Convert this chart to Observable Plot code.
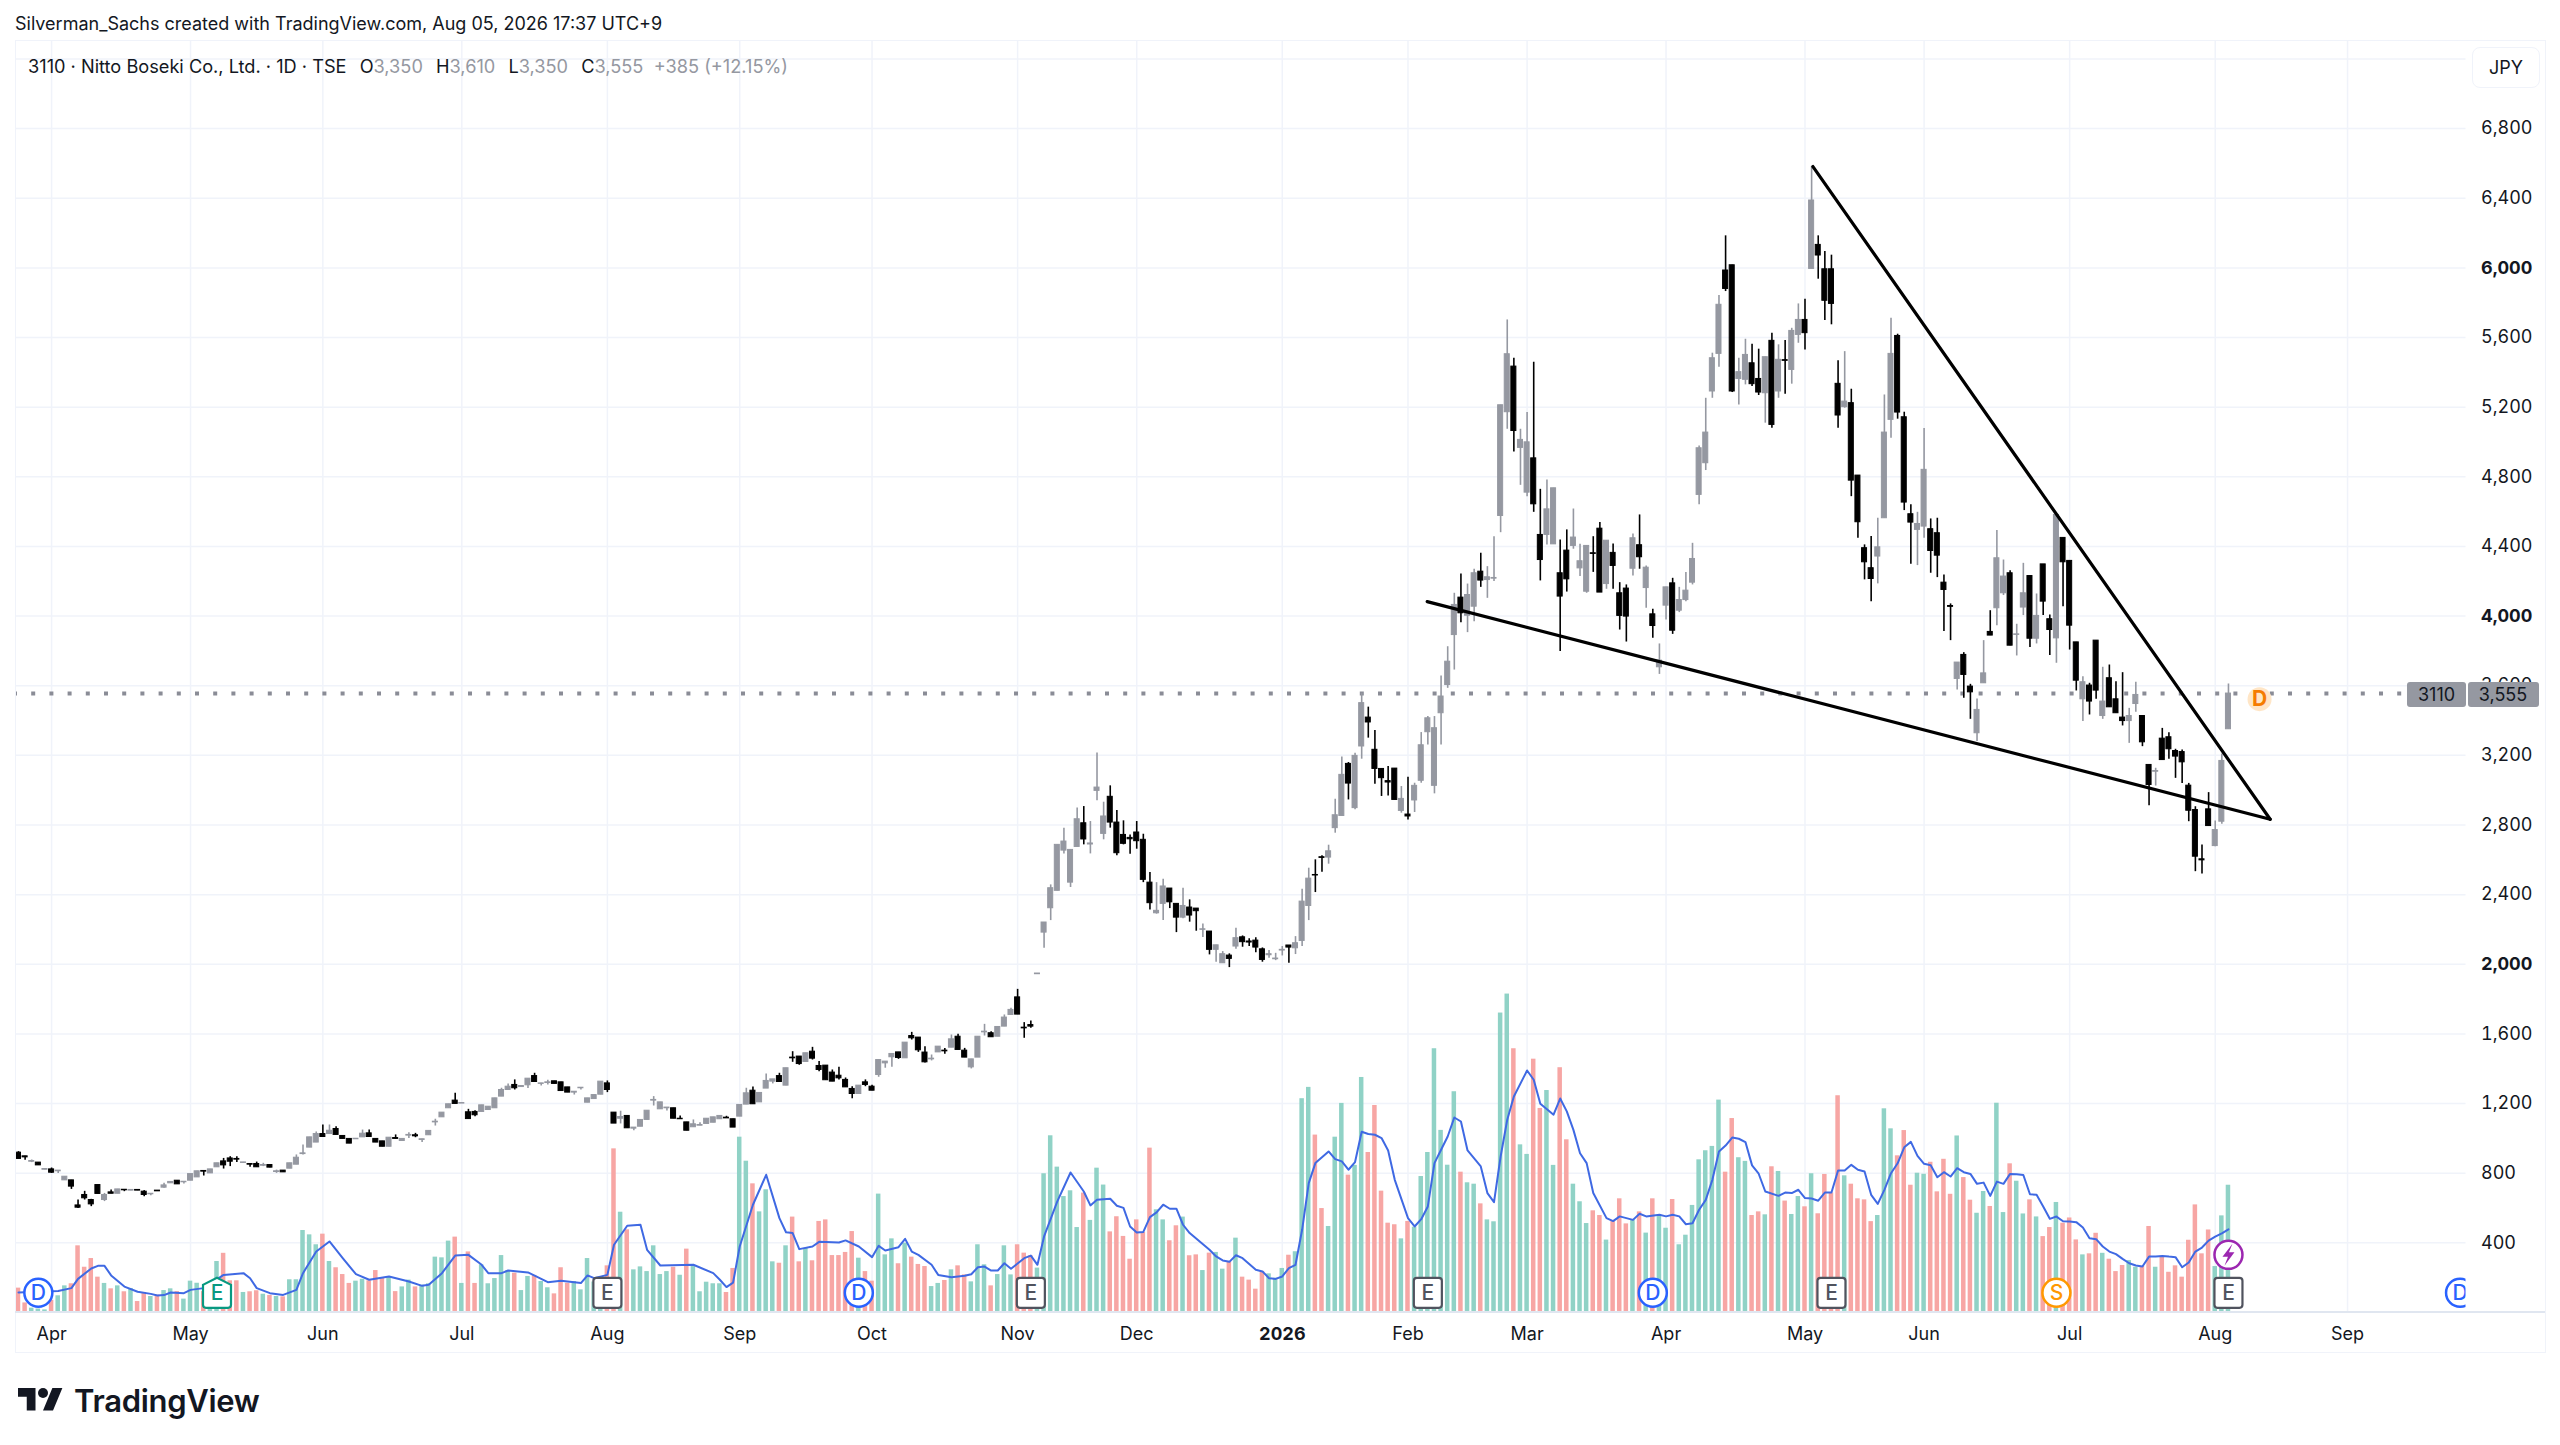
<!DOCTYPE html>
<html>
<head>
<meta charset="utf-8">
<script src="https://cdn.jsdelivr.net/npm/d3@7"></script>
<script src="https://cdn.jsdelivr.net/npm/@observablehq/plot@0.6"></script>
<style>
html,body{margin:0;padding:0;background:#fff;width:2560px;height:1445px;overflow:hidden;font-family:Inter,"Liberation Sans",sans-serif;color:#131722}
#head{height:40px;line-height:47px;padding-left:15px;font-size:18px;white-space:nowrap;box-sizing:border-box}
#chart{position:relative;width:2560px;height:1312px}
#chart svg{display:block}
.abs{position:absolute;white-space:nowrap}
#legend{left:28px;top:14px;font-size:18.2px;line-height:24px}
#legend span{color:#9598a1}
#legend b{font-weight:400;margin-left:8px}
.badge{background:#9598a1;color:#131722;font-size:18px;top:642px;height:25px;line-height:25px;text-align:center;border-radius:3px}
#frame{position:absolute;left:15px;top:0;width:2529px;height:1311px;border:1.5px solid #f0f3fa;pointer-events:none}
#base{position:absolute;left:15px;top:1271px;width:2530px;height:2px;background:#e0e6f0}
#jpy{left:2472px;top:7px;width:66px;height:39px;line-height:39px;border:1px solid #f0f3fa;border-radius:8px;text-align:center;font-size:18px;background:#fff}
#foot{position:absolute;left:18px;top:1382px;display:flex;align-items:center}
#foot span{font-size:31px;font-weight:600;margin-left:11px;letter-spacing:-.3px;color:#131722}
</style>
</head>
<body>
<div id="head">Silverman_Sachs created with TradingView.com, Aug 05, 2026 17:37 UTC+9</div>
<div id="chart"></div>
<div id="foot"><svg width="45" height="35" viewBox="0 0 36 28"><path fill="#131722" d="M14 22H7V11H0V4h14v18zM28 22h-8l7.5-18h8L28 22z"/><circle fill="#131722" cx="20" cy="8" r="4"/></svg><span>TradingView</span></div>
<script>
const open=[
918,897,866,861,820,822,811,759,759,615,
675,646,732,646,690,682,705,700,704,694,
679,700,717,742,757,748,757,776,813,799,
834,868,885,882,859,853,853,843,847,807,
815,826,849,910,947,976,1025,1025,1054,1014,
997,995,1006,1029,997,983,952,1002,985,1016,
1018,991,1018,1092,1121,1173,1217,1200,1150,1152,
1152,1163,1173,1240,1278,1307,1295,1305,1358,1313,
1318,1328,1322,1293,1263,1288,1205,1226,1251,1316,
1148,1113,1129,1056,1067,1106,1217,1167,1173,1173,
1113,1092,1064,1073,1083,1090,1110,1119,1110,1125,
1194,1274,1207,1286,1326,1358,1303,1464,1470,1439,
1498,1416,1418,1378,1360,1336,1284,1255,1322,1297,
1364,1431,1466,1494,1460,1588,1579,1493,1454,1494,
1504,1521,1584,1504,1408,1464,1609,1604,1584,1642,
1709,1810,1636,1651,1943,2182,2322,2422,2653,2469,
2674,2810,2688,2996,2749,2962,2814,2743,2726,2757,
2715,2469,2293,2347,2435,2347,2268,2326,2320,2198,
2188,2083,2006,2050,2102,2155,2131,2136,2086,2052,
2029,2079,2108,2092,2134,2335,2513,2615,2613,2782,
2852,3151,2897,3251,3417,3232,3122,3052,3124,2881,
2860,2941,3054,3333,3025,3442,3604,3891,4106,4002,
4054,4255,4207,4215,4575,5171,5433,4966,4709,4906,
4466,4466,4412,4246,4376,4403,4274,4140,4361,4502,
4184,4363,4131,4158,4272,4407,4161,4010,3706,4060,
4188,4031,4092,4192,4696,4878,5290,5506,5985,6015,
5362,5357,5452,5362,5280,5581,5290,5470,5414,5615,
5701,5994,6132,5992,5992,5334,5200,5223,4807,4390,
4275,4342,4562,5127,5609,5142,4585,4495,4514,4499,
4476,4192,4058,3639,3777,3595,3327,3614,3909,4045,
4131,4246,3892,4049,4230,3870,4297,3982,3872,4449,
4317,3849,3522,3601,3859,3426,3643,3522,3417,3397,
3495,3426,3145,3106,3296,3304,3225,3219,3026,2886,
2603,2890,2679,2819,3350];
const high=[
924,897,876,861,824,830,815,780,759,646,
696,650,732,684,704,707,705,704,704,700,
682,700,742,750,757,751,795,811,813,822,
857,885,895,895,862,853,864,857,847,818,
815,857,905,962,1006,1037,1077,1077,1067,1014,
997,998,1048,1048,997,983,1004,1020,997,1033,
1029,995,1043,1110,1148,1196,1259,1203,1167,1159,
1190,1182,1230,1288,1313,1336,1301,1343,1374,1316,
1334,1328,1322,1293,1268,1291,1230,1249,1326,1330,
1148,1156,1129,1062,1106,1159,1240,1207,1177,1173,
1129,1092,1106,1090,1113,1121,1129,1127,1110,1192,
1288,1295,1261,1370,1339,1374,1403,1498,1470,1489,
1523,1441,1418,1393,1408,1347,1297,1303,1336,1305,
1450,1441,1485,1494,1550,1609,1579,1527,1479,1527,
1516,1594,1598,1517,1454,1584,1655,1613,1640,1709,
1747,1856,1665,1674,1947,2240,2456,2686,2782,2657,
2897,2906,2820,3213,2931,3025,2883,2824,2743,2820,
2747,2527,2469,2489,2435,2347,2437,2370,2320,2232,
2188,2109,2073,2060,2207,2163,2146,2153,2094,2079,
2063,2102,2108,2159,2431,2552,2600,2623,2684,2948,
3190,3159,3212,3557,3477,3343,3122,3136,3124,3021,
3075,3040,3331,3423,3423,3656,3824,4131,4242,4184,
4269,4361,4284,4456,5211,5701,5481,5073,5169,5458,
4728,4782,4734,4437,4495,4615,4412,4403,4456,4537,
4433,4414,4192,4179,4472,4581,4288,4039,3840,4165,
4217,4165,4250,4418,4977,5251,5510,5841,6184,6015,
5481,5590,5562,5533,5487,5625,5558,5583,5653,5793,
5820,6582,6184,6094,6073,5466,5519,5303,4807,4409,
4457,4562,5270,5711,5619,5171,4639,4596,5077,4558,
4562,4236,4070,3733,3790,3608,3524,3859,4031,4491,
4322,4261,3953,4303,4230,4127,4297,4006,4581,4449,
4317,3849,3652,3614,3859,3706,3719,3623,3675,3470,
3620,3426,3145,3126,3355,3330,3235,3231,3039,2905,
2685,2986,2823,3208,3610];
const low=[
882,874,861,845,820,799,799,759,707,598,
646,608,681,637,682,682,694,700,700,665,
671,696,713,742,736,738,757,776,784,799,
834,824,838,861,859,834,834,838,832,799,
805,826,849,905,947,976,1008,1025,1020,997,
970,995,1006,1008,976,952,952,997,985,1000,
1004,977,1018,1071,1121,1173,1198,1200,1111,1125,
1152,1163,1173,1240,1278,1278,1295,1286,1324,1301,
1307,1313,1272,1263,1249,1278,1205,1226,1251,1263,
1085,1083,1058,1044,1067,1106,1186,1167,1157,1113,
1110,1044,1064,1073,1083,1090,1110,1115,1062,1125,
1194,1196,1207,1286,1313,1324,1303,1437,1420,1439,
1450,1383,1334,1326,1336,1293,1228,1255,1297,1274,
1351,1403,1408,1454,1460,1565,1494,1433,1445,1494,
1483,1521,1508,1464,1399,1464,1588,1581,1584,1642,
1709,1711,1575,1632,1943,2092,2251,2422,2634,2441,
2674,2686,2634,2939,2715,2782,2623,2686,2632,2661,
2469,2312,2288,2251,2320,2182,2261,2242,2190,2154,
2054,2012,2006,1981,2086,2098,2102,2067,2012,2035,
2021,2048,2006,2056,2102,2251,2412,2529,2575,2753,
2852,2944,2887,3178,3299,3034,2964,2967,2944,2868,
2829,2872,3040,3260,2979,3260,3585,3690,3962,3905,
3968,4165,4102,4198,4479,5073,4943,4751,4686,4596,
4202,4408,4412,3796,4138,4384,4227,4131,4251,4135,
4154,4154,3920,3851,4230,4269,4045,3872,3665,3978,
3895,4020,4083,4179,4639,4836,5251,5429,5864,5284,
5213,5328,5318,5267,5108,5079,5251,5274,5332,5567,
5529,5994,5935,5698,5673,5079,5194,4686,4447,4208,
4083,4185,4562,5022,5131,4606,4298,4290,4447,4246,
4221,3911,3859,3576,3528,3407,3279,3614,3888,3945,
4118,3830,3771,4003,3819,3840,4003,3773,3729,4054,
3805,3570,3394,3432,3522,3407,3476,3442,3369,3269,
3447,3250,2911,3024,3173,3177,3068,3039,2819,2532,
2519,2794,2675,2804,3350];
const close=[
882,891,870,845,824,803,815,780,723,602,
656,621,681,675,682,707,702,704,700,675,
682,696,730,750,736,751,795,811,809,822,
857,845,866,878,862,849,834,847,832,811,
805,857,889,914,1006,1025,1008,1044,1020,997,
970,998,1027,1008,976,952,1004,997,997,1020,
1012,995,1043,1096,1148,1196,1198,1203,1111,1133,
1190,1182,1230,1278,1297,1288,1301,1343,1324,1316,
1322,1313,1272,1263,1268,1291,1230,1249,1326,1278,
1085,1123,1058,1062,1106,1159,1221,1207,1177,1113,
1110,1044,1081,1077,1113,1121,1129,1115,1062,1192,
1259,1196,1261,1330,1339,1324,1403,1460,1427,1489,
1458,1393,1334,1326,1345,1293,1255,1303,1307,1274,
1450,1441,1485,1462,1550,1575,1506,1437,1458,1527,
1500,1569,1508,1464,1454,1584,1613,1581,1640,1694,
1738,1711,1632,1642,1947,2240,2437,2686,2705,2657,
2833,2717,2694,3015,2849,2814,2638,2692,2718,2707,
2485,2351,2307,2447,2356,2268,2335,2280,2305,2201,
2083,2109,2058,2031,2150,2127,2125,2096,2025,2058,
2033,2083,2096,2121,2360,2492,2510,2611,2649,2856,
3088,3038,3197,3500,3389,3122,3069,3044,2944,2950,
2849,3025,3258,3413,3356,3538,3738,4064,4016,4121,
4246,4204,4223,4219,5211,5504,5063,5012,4998,4642,
4322,4613,4734,4112,4211,4451,4315,4403,4357,4135,
4433,4288,4001,3997,4447,4338,4278,3943,3744,4165,
3916,4092,4146,4328,4964,5054,5481,5788,5879,5290,
5401,5500,5332,5284,5487,5098,5472,5466,5638,5701,
5625,6387,6071,5811,5793,5152,5232,4778,4539,4309,
4213,4395,5054,5506,5169,4652,4537,4529,4840,4374,
4347,4150,4053,3733,3662,3562,3461,3671,3888,4332,
4227,3830,3895,4131,3870,4001,4083,3920,4581,4309,
3945,3629,3620,3509,3572,3509,3476,3442,3397,3426,
3547,3275,3030,3110,3173,3235,3193,3160,2882,2618,
2597,2794,2771,3168,3555];
const volume=[
140,55,25,20,15,70,96,153,165,383,
260,310,203,167,136,153,119,138,63,115,
92,100,126,136,120,77,180,168,120,145,
293,340,182,182,115,119,125,105,98,92,
90,188,188,471,446,389,450,293,257,218,
167,180,191,182,241,197,201,120,147,186,
147,157,165,318,314,410,433,167,348,167,
274,165,195,327,241,226,126,207,213,178,
142,107,257,168,178,130,310,175,150,268,
940,576,475,245,262,235,383,218,235,260,
214,364,264,119,174,165,165,115,253,1007,
869,739,578,705,291,283,383,548,291,368,
297,523,532,327,327,345,465,312,235,180,
680,331,423,280,398,318,276,264,149,167,
184,245,268,216,176,389,274,153,218,383,
216,389,341,326,255,797,1015,835,666,699,
488,686,529,829,732,463,550,437,306,532,
460,944,590,532,412,498,548,326,331,241,
341,345,249,293,427,203,186,134,236,222,
197,253,329,349,1228,1293,1019,597,494,1007,
1201,789,845,1350,919,1189,697,513,504,423,
523,490,781,919,1515,1046,846,1268,806,745,
737,624,532,521,1720,1829,1515,963,908,1455,
1172,1275,845,1406,992,737,636,511,584,557,
416,523,653,509,532,578,456,653,557,484,
649,389,444,615,877,929,954,1220,806,1114,
889,868,557,578,561,837,810,640,563,666,
607,797,567,793,686,1245,785,737,653,647,
522,557,1170,1055,900,1045,731,800,794,863,
693,880,679,1014,775,645,570,695,609,1202,
574,854,754,566,647,549,436,488,632,513,
543,417,331,337,455,340,306,235,270,298,
260,264,494,260,321,231,268,203,415,618,
337,474,264,555,731];
const volumeDirection=[
"rrgggrggrr","rrrgrgrgrr","grggrgggrg","grrrgrrgrg","rgggggrgrr","rggrrrgrgg","rgggggrgrr","gggggrggrg","grrrgggggr",
"rgrggggggr","grgggggrrg","grgggrgrrg","rrrrrrrgrr","gggrgrrrgg","rgrrgggrgg","grrrgggggg","grgggrrrrr","rrggrrgrrg",
"rggrgrrrrg","ggrgggrrgg","grggrrrrrg","rgggggggrg","grggggrggr","rggrrgggrr","grrrgrgrgg","rgggggggrr","ggrrgrgrgg",
"rgrrrrgrrr","rgggrrrggr","rrrgrrggrg","grggrgrrgr","rrgrrgrrrg","grrgrrrrrr","rrggg"].join("");
const maIndex=[
0,6,8,9,11,12,13,14,16,18,
20,21,22,23,25,26,28,31,34,35,
36,38,40,42,43,45,47,49,51,53,
56,59,61,62,64,66,68,70,71,73,
74,77,80,82,85,86,87,89,90,92,
94,95,97,102,105,106,107,108,109,111,
113,115,116,117,118,120,121,124,125,127,
129,130,131,133,134,135,136,138,139,141,
143,144,145,146,147,148,149,150,152,153,
154,155,157,159,161,162,163,165,166,167,
168,169,170,171,172,173,174,175,176,177,
180,181,182,183,184,185,187,188,189,190,
191,192,193,194,195,196,198,199,200,201,
202,203,204,205,206,207,208,210,211,212,
213,214,215,216,217,218,219,221,222,223,
224,225,226,228,229,230,232,233,234,235,
236,237,238,240,241,242,244,245,246,248,
249,250,251,252,253,254,255,256,257,258,
259,260,261,262,263,264,266,267,268,269,
270,271,272,273,274,275,276,277,278,279,
280,281,282,283,284,285,286,287,288,289,
290,291,292,293,294,295,296,297,298,299,
300,301,302,303,304,305,306,307,308,309,
310,311,312,313,314,315,316,317,318,319,
320,321,322,323,324,325,326,327,328,329,
330,331,332,333,334];
const maValue=[
115,123,140,193,253,268,268,213,149,119,
107,98,100,115,111,130,140,216,226,197,
140,111,101,130,226,350,408,312,220,188,
207,178,153,159,226,327,331,274,226,226,
241,230,174,182,169,213,197,216,389,498,
504,360,270,274,226,188,146,172,379,619,
791,542,461,456,364,379,406,402,414,379,
318,383,356,375,423,350,331,274,216,203,
211,220,260,264,241,241,283,251,312,327,
274,437,638,804,695,615,647,653,613,601,
494,460,463,548,575,619,596,596,504,456,
360,322,299,291,329,312,245,236,197,193,
207,255,274,475,743,858,925,881,868,820,
864,1038,1025,1021,1002,931,762,542,494,536,
609,858,935,1011,1120,1097,931,839,686,634,
896,1107,1241,1390,1337,1199,1136,1229,1155,1049,
915,858,686,542,525,552,532,567,552,561,
552,561,552,507,513,590,647,762,925,959,
1005,998,979,845,797,695,670,689,686,705,
657,655,642,689,689,816,816,848,820,810,
676,624,704,800,857,949,980,900,854,846,
777,806,781,829,806,796,739,746,670,752,
739,796,794,790,679,676,609,538,551,524,
522,519,488,427,421,379,350,335,308,283,
270,264,321,321,325,321,318,260,287,350,
373,413,436,455,478];
const upperTrendIndex=[271.2,340.3], upperTrendPrice=[6582,2833];
const lowerTrendIndex=[212.9,340.3], lowerTrendPrice=[4083,2833];
const lastClose=3555;
const priceTicks=[400,800,1200,1600,2400,2800,3200,3600,4400,4800,5200,5600,6400,6800];
const boldPriceTicks=[2000,4000,6000];
const gridPrices=[400,800,1200,1600,2000,2400,2800,3200,3600,4000,4400,4800,5200,5600,6000,6400,6800,7200];
const monthIndex=[5,26,46,67,89,109,129,151,169,210,228,249,270,288,310,332,352];
const monthLabel=["Apr","May","Jun","Jul","Aug","Sep","Oct","Nov","Dec","Feb","Mar","Apr","May","Jun","Jul","Aug","Sep"];
const yearIndex=[191], yearLabel=["2026"];
const dividendIndex=[3,127,247,369];
const earningsIndex=[89,153,213,274,334];
const nextEarningsIndex=[30];
const splitIndex=[308];
const flashIndex=[334];
const pendingDividendIndex=[338.7];
const badgeLevel=113, flashLevel=331, pendingLevel=3523;

const n=close.length, idx=d3.range(n);
const UP="#9598a1",DOWN="#000000",VG="#90d2c6",VR="#f7a6a4";
const candleColor=i=>close[i]>=open[i]?UP:DOWN;
const labelOf=new Map(monthIndex.map((d,k)=>[d,monthLabel[k]]));
const roundedBox={draw(c){const w=14,h=15,r=3;c.moveTo(-w+r,-h);c.lineTo(w-r,-h);c.arcTo(w,-h,w,-h+r,r);c.lineTo(w,h-r);c.arcTo(w,h,w-r,h,r);c.lineTo(-w+r,h);c.arcTo(-w,h,-w,h-r,r);c.lineTo(-w,-h+r);c.arcTo(-w,-h,-w+r,-h,r);c.closePath();}};
const house={draw(c){const w=14,h=15;c.moveTo(0,-h);c.lineTo(w,-h+7);c.lineTo(w,h-3);c.arcTo(w,h,w-3,h,3);c.lineTo(-w+3,h);c.arcTo(-w,h,-w,h-3,3);c.lineTo(-w,-h+7);c.closePath();}};
const bolt={draw(c){c.moveTo(4,-11);c.lineTo(-6,2);c.lineTo(-0.5,2);c.lineTo(-4,11);c.lineTo(6,-2.5);c.lineTo(0.5,-2.5);c.closePath();}};
const badgeText={fontFamily:"Inter",fontSize:21,fontWeight:500};

const plot=Plot.plot({
  width:2560,height:1312,marginTop:0,marginBottom:40,marginLeft:15,marginRight:94.5,
  style:{fontFamily:"Inter, sans-serif",fontSize:"18px",color:"#131722",background:"transparent"},
  x:{type:"linear",domain:[-0.453,369.9],label:null},
  y:{type:"linear",domain:[0,7306],label:null},
  marks:[
    Plot.gridY(gridPrices,{stroke:"#f0f3fa",strokeOpacity:1,strokeWidth:1.5}),
    Plot.gridX(monthIndex.concat(yearIndex),{stroke:"#f0f3fa",strokeOpacity:1,strokeWidth:1.5}),
    Plot.axisY({anchor:"right",ticks:priceTicks,tickSize:0,tickPadding:15,tickFormat:d3.format(","),fontSize:18,label:null}),
    Plot.axisY({anchor:"right",ticks:boldPriceTicks,tickSize:0,tickPadding:15,tickFormat:d3.format(","),fontSize:18,fontWeight:700,label:null}),
    Plot.axisX({anchor:"bottom",ticks:monthIndex,tickSize:0,tickPadding:15,tickFormat:d=>labelOf.get(d),fontSize:18,label:null}),
    Plot.axisX({anchor:"bottom",ticks:yearIndex,tickSize:0,tickPadding:15,tickFormat:()=>yearLabel[0],fontSize:18,fontWeight:700,label:null}),
    Plot.rect(idx,{x1:i=>i-0.34,x2:i=>i+0.34,y1:0,y2:i=>volume[i],fill:i=>volumeDirection[i]==="g"?VG:VR}),
    Plot.line(maIndex,{x:d=>d,y:(d,k)=>maValue[k],stroke:"#3f69e3",strokeWidth:2,curve:"linear"}),
    Plot.ruleY([lastClose],{stroke:"#8a8c96",strokeWidth:4,strokeDasharray:"4 14.2",strokeDashoffset:2}),
    Plot.ruleX(idx,{x:i=>i,y1:i=>low[i],y2:i=>high[i],stroke:candleColor,strokeWidth:1.6}),
    Plot.rect(idx,{x1:i=>i-0.38,x2:i=>i+0.38,y1:i=>open[i],y2:i=>close[i],fill:candleColor,stroke:candleColor,strokeWidth:1}),
    Plot.line(upperTrendIndex,{x:d=>d,y:(d,k)=>upperTrendPrice[k],stroke:"#000",strokeWidth:3.2}),
    Plot.line(lowerTrendIndex,{x:d=>d,y:(d,k)=>lowerTrendPrice[k],stroke:"#000",strokeWidth:3.2}),
    Plot.dot(pendingDividendIndex,{x:d=>d,y:pendingLevel,r:12,fill:"#ffe6c7",stroke:"none"}),
    Plot.text(pendingDividendIndex,{x:d=>d,y:pendingLevel,text:()=>"D",fill:"#f57c00",...badgeText,fontWeight:700}),
    Plot.dot(dividendIndex,{x:d=>d,y:badgeLevel,r:14,fill:"#fff",stroke:"#2962ff",strokeWidth:2.5,clip:"frame"}),
    Plot.text(dividendIndex,{x:d=>d,y:badgeLevel,text:()=>"D",fill:"#2962ff",...badgeText,clip:"frame"}),
    Plot.dot(earningsIndex,{x:d=>d,y:badgeLevel,symbol:roundedBox,fill:"#fff",stroke:"#50535e",strokeWidth:2.2}),
    Plot.text(earningsIndex,{x:d=>d,y:badgeLevel,text:()=>"E",fill:"#50535e",...badgeText}),
    Plot.dot(nextEarningsIndex,{x:d=>d,y:badgeLevel,symbol:house,fill:"#fff",stroke:"#089981",strokeWidth:2.2}),
    Plot.text(nextEarningsIndex,{x:d=>d,y:badgeLevel,text:()=>"E",fill:"#089981",...badgeText}),
    Plot.dot(splitIndex,{x:d=>d,y:badgeLevel,r:14,fill:"#fff",stroke:"#ff9800",strokeWidth:2.5}),
    Plot.text(splitIndex,{x:d=>d,y:badgeLevel,text:()=>"S",fill:"#ff9800",...badgeText}),
    Plot.dot(flashIndex,{x:d=>d,y:flashLevel,r:14,fill:"#fff",stroke:"#9c27b0",strokeWidth:2.5}),
    Plot.dot(flashIndex,{x:d=>d,y:flashLevel,symbol:bolt,fill:"#9c27b0",stroke:"none"})
  ]
});
const chart=document.getElementById("chart");
chart.appendChild(plot);
const add=(id,cls,html,css)=>{const e=document.createElement("div");if(id)e.id=id;e.className=cls;e.innerHTML=html;if(css)e.style.cssText=css;chart.appendChild(e);};
add("frame","","");
add("base","","");
add("legend","abs",'3110 · Nitto Boseki Co., Ltd. · 1D · TSE<b>&nbsp;O</b><span>3,350</span><b>&nbsp;H</b><span>3,610</span><b>&nbsp;L</b><span>3,350</span><b>&nbsp;C</b><span>3,555</span>&nbsp;&nbsp;<span>+385 (+12.15%)</span>');
add("jpy","abs","JPY");
add("","abs badge","3110","left:2407px;width:59px");
add("","abs badge","3,555","left:2467.5px;width:71px");
</script>
</body>
</html>
